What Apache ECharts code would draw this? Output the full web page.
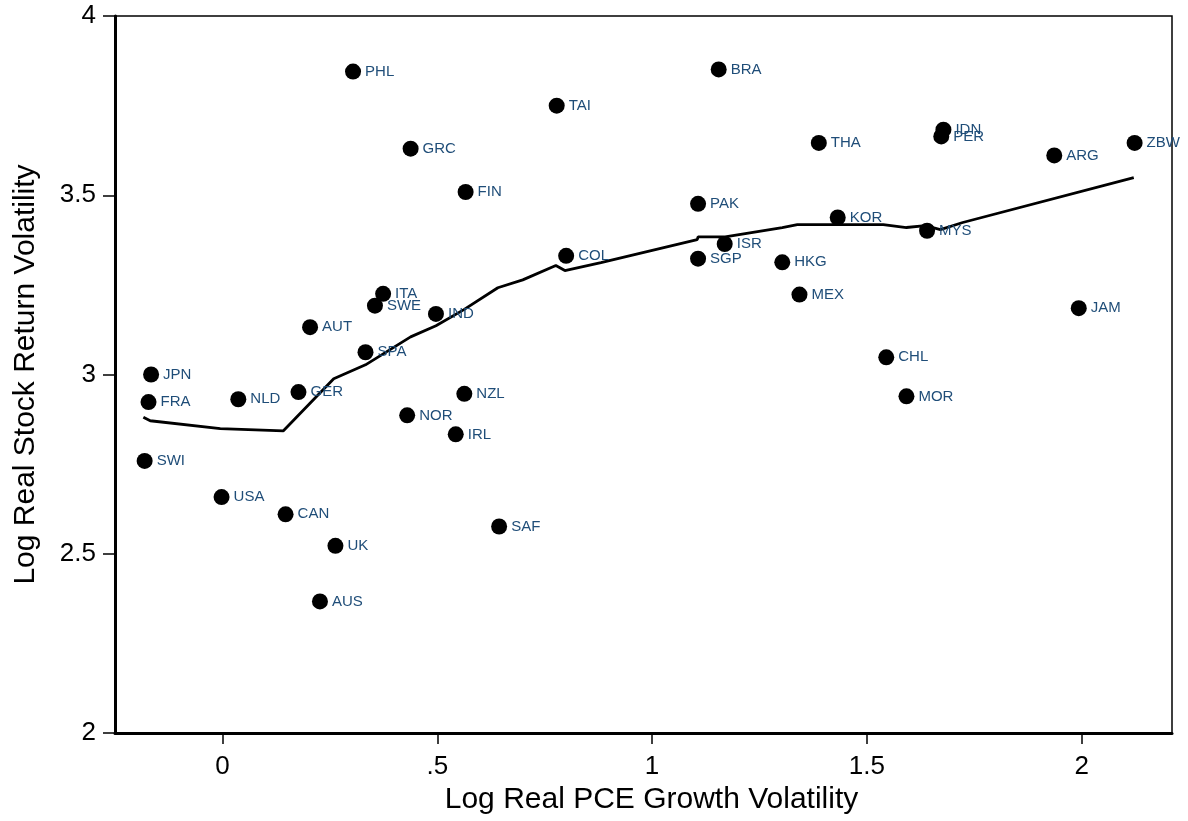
<!DOCTYPE html>
<html>
<head>
<meta charset="utf-8">
<script src="https://cdn.jsdelivr.net/npm/echarts@6/dist/echarts.min.js"></script>
<style>
html,body{margin:0;padding:0;background:#fff;}
#chart{width:1188px;height:821px;}
</style>
</head>
<body>
<div id="chart"></div>
<script>
// Countries and their coordinates
var countries = ['PHL','BRA','TAI','GRC','FIN','THA','IDN','PER','ARG','ZBW','PAK','KOR','MYS','ISR','COL','SGP','HKG','MEX','JAM','ITA','SWE','IND','AUT','SPA','CHL','JPN','FRA','NLD','GER','NZL','NOR','MOR','IRL','SWI','USA','CAN','SAF','UK','AUS'];
var pceVol = [0.304,1.155,0.778,0.438,0.566,1.388,1.678,1.673,1.936,2.123,1.107,1.432,1.640,1.169,0.800,1.107,1.303,1.343,1.993,0.374,0.355,0.497,0.204,0.333,1.545,-0.166,-0.172,0.037,0.177,0.563,0.430,1.592,0.543,-0.181,-0.002,0.147,0.644,0.263,0.227];
var stockVol = [3.845,3.851,3.750,3.630,3.509,3.646,3.683,3.664,3.611,3.646,3.476,3.438,3.401,3.364,3.331,3.323,3.313,3.223,3.185,3.225,3.192,3.169,3.132,3.062,3.048,3.000,2.923,2.931,2.951,2.946,2.886,2.939,2.833,2.759,2.658,2.610,2.576,2.522,2.367];

// Smoothed (lowess) line
var fitX = [-0.184,-0.168,-0.005,0.142,0.259,0.333,0.438,0.497,0.562,0.641,0.699,0.776,0.797,0.881,1.105,1.107,1.170,1.303,1.338,1.538,1.592,1.636,1.671,1.723,2.121];
var fitY = [2.881,2.871,2.849,2.843,2.988,3.027,3.105,3.136,3.181,3.242,3.264,3.304,3.290,3.312,3.376,3.384,3.384,3.410,3.418,3.418,3.410,3.415,3.404,3.424,3.549];

// Tick labels
var xTicks = [0, 0.5, 1, 1.5, 2];
var xTickLabels = ['0', '.5', '1', '1.5', '2'];
var yTicks = [2, 2.5, 3, 3.5, 4];
var yTickLabels = ['2', '2.5', '3', '3.5', '4'];

var FONT = "'Liberation Sans', Arial, Helvetica, sans-serif";

var scatterData = countries.map(function(c, i){ return {name: c, value: [pceVol[i], stockVol[i]]}; });
var lineData = fitX.map(function(x, i){ return [x, fitY[i]]; });

var chart = echarts.init(document.getElementById('chart'), null, {renderer: 'canvas'});
chart.setOption({
  animation: false,
  backgroundColor: '#ffffff',
  grid: {left: 115, right: 16, top: 16, bottom: 88, show: true, borderColor: '#000', borderWidth: 1.5, backgroundColor: 'transparent'},
  xAxis: {
    type: 'value', min: -0.25, max: 2.21,
    name: 'Log Real PCE Growth Volatility', nameLocation: 'middle', nameGap: 47,
    nameTextStyle: {fontFamily: FONT, fontSize: 30, color: '#000', padding: [0, 0, 0, 16]},
    axisLine: {show: true, onZero: false, lineStyle: {color: '#000', width: 3}},
    axisTick: {show: true, length: 11, inside: false, customValues: xTicks, lineStyle: {color: '#000', width: 1.5}},
    axisLabel: {show: true, margin: 21, fontFamily: FONT, fontSize: 26, color: '#000', customValues: xTicks,
      formatter: function(v){ var i = xTicks.indexOf(v); return i >= 0 ? xTickLabels[i] : ''; }},
    splitLine: {show: false}
  },
  yAxis: {
    type: 'value', min: 2, max: 4, interval: 0.5,
    name: 'Log Real Stock Return Volatility', nameLocation: 'middle', nameGap: 74, nameRotate: 90,
    nameTextStyle: {fontFamily: FONT, fontSize: 30, color: '#000'},
    axisLine: {show: true, onZero: false, lineStyle: {color: '#000', width: 3}},
    axisTick: {show: true, length: 12, inside: false, lineStyle: {color: '#000', width: 1.5}},
    axisLabel: {show: true, margin: 19, fontFamily: FONT, fontSize: 26, color: '#000', padding: [4, 0, 0, 0],
      formatter: function(v){ var i = yTicks.indexOf(v); return i >= 0 ? yTickLabels[i] : ''; }},
    splitLine: {show: false}
  },
  series: [
    {
      type: 'line', data: lineData, showSymbol: false, symbol: 'none', smooth: false,
      lineStyle: {color: '#000', width: 2.8}, z: 3, silent: true
    },
    {
      type: 'scatter', data: scatterData, symbol: 'circle', symbolSize: 16,
      itemStyle: {color: '#000', opacity: 1},
      label: {show: true, position: 'right', distance: 4, formatter: '{b}', fontFamily: FONT, fontSize: 15, color: '#1f4d78'},
      z: 4
    }
  ]
});
</script>
</body>
</html>
